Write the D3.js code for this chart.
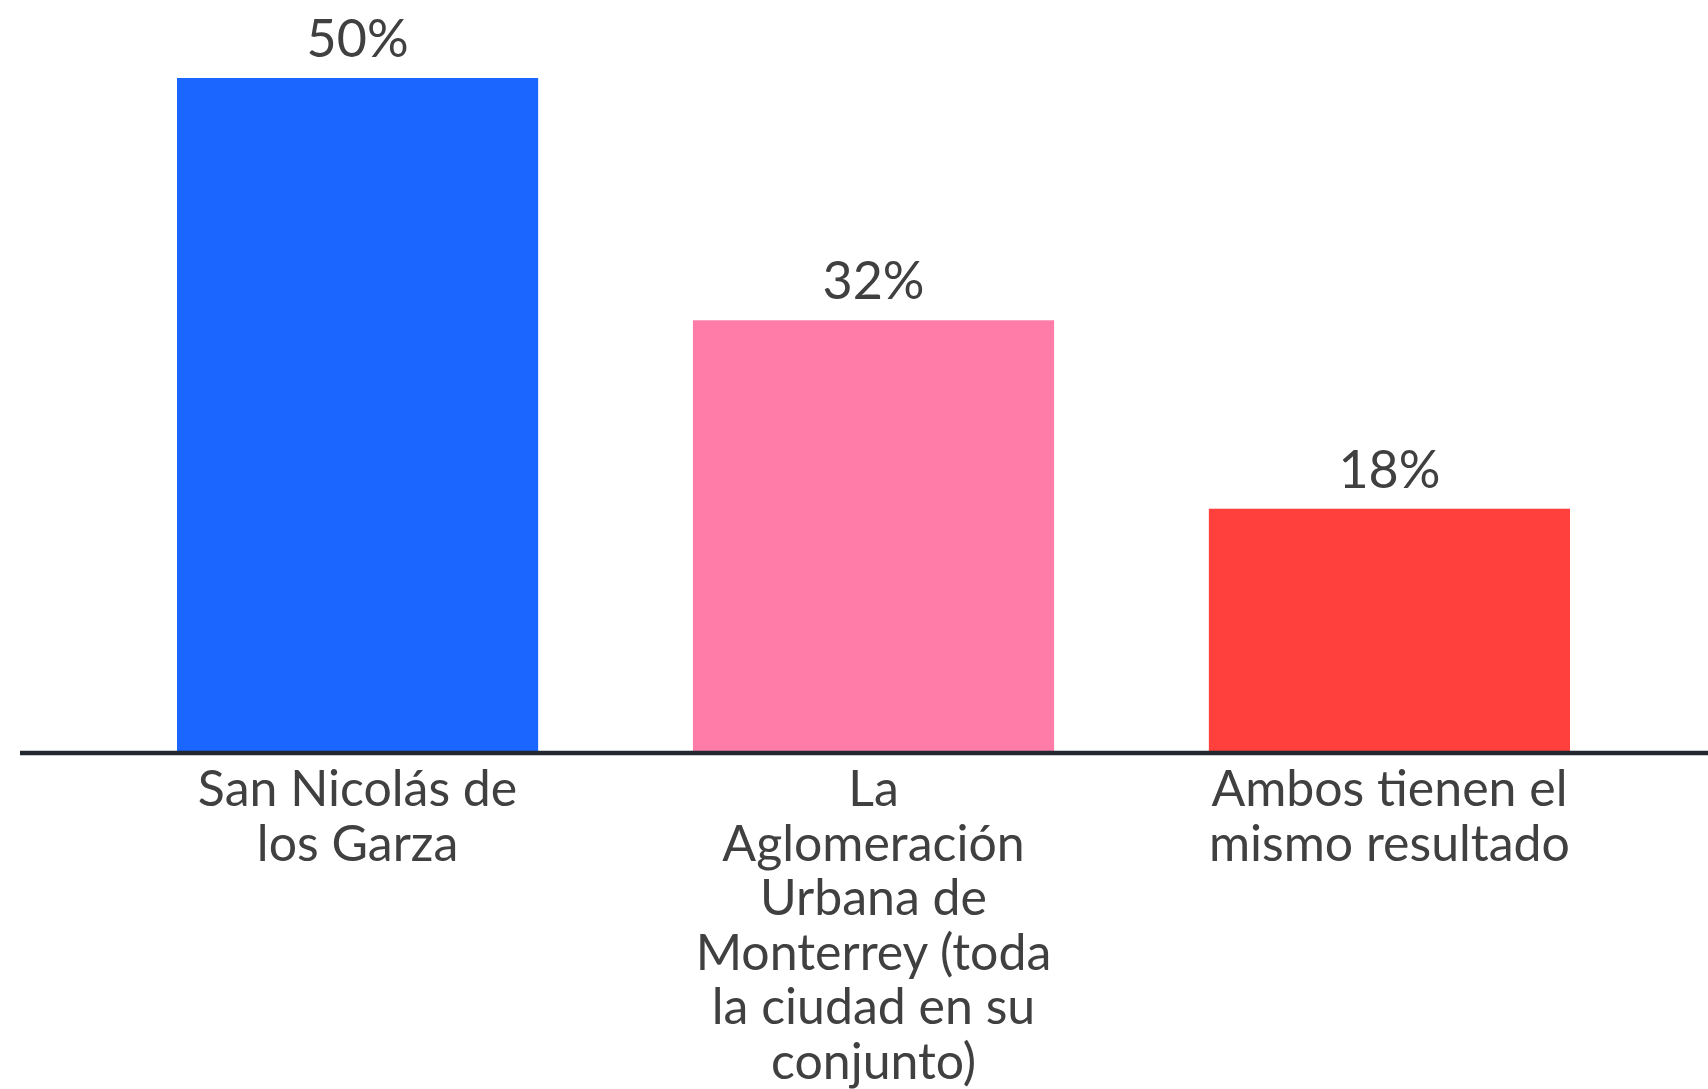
<!DOCTYPE html>
<html>
<head>
<meta charset="utf-8">
<script src="https://cdn.jsdelivr.net/npm/d3@7"></script>
<style>
  body { margin: 0; background: #fff; }
  svg { display: block; }
</style>
</head>
<body>
<script>
// data
let categories = ["San Nicolás de los Garza", "La Aglomeración Urbana de Monterrey (toda la ciudad en su conjunto)", "Ambos tienen el mismo resultado"];
let values = [50, 32, 18];
let valueLabels = ["50%", "32%", "18%"];
let tickLines = [
  ["San Nicolás de", "los Garza"],
  ["La", "Aglomeración", "Urbana de", "Monterrey (toda", "la ciudad en su", "conjunto)"],
  ["Ambos tienen el", "mismo resultado"]
];
let colors = ["#1a66ff", "#ff7ca8", "#ff403d"];

let w = 1708, h = 1089;
let font = "Lato, 'Noto Sans', sans-serif";
let textColor = "#404040";

let svg = d3.select("body").append("svg").attr("width", w).attr("height", h);

let xScale = d3.scaleBand().domain(categories).range([177, 1570]).paddingInner(0.3).paddingOuter(0);
let yScale = d3.scaleLinear().domain([0, 50]).range([751, 78]);

// bars
svg.selectAll(".bar")
  .data(categories)
  .enter()
  .append("rect")
  .attr("class", "bar")
  .attr("x", d => xScale(d))
  .attr("y", (d, i) => yScale(values[i]))
  .attr("width", xScale.bandwidth())
  .attr("height", (d, i) => yScale(0) - yScale(values[i]))
  .attr("fill", (d, i) => colors[i]);

// value labels
svg.selectAll(".val")
  .data(categories)
  .enter()
  .append("text")
  .attr("class", "val")
  .text((d, i) => valueLabels[i])
  .attr("x", d => xScale(d) + xScale.bandwidth() / 2)
  .attr("y", (d, i) => yScale(values[i]) - 21)
  .attr("text-anchor", "middle")
  .attr("font-family", font)
  .attr("font-size", "52px")
  .attr("fill", textColor);

// baseline (runs past the bars to the right edge)
svg.append("line")
  .attr("x1", 20).attr("x2", w)
  .attr("y1", yScale(0) + 2).attr("y2", yScale(0) + 2)
  .attr("stroke", "#23282e")
  .attr("stroke-width", 4.5);

// category labels, one tspan per line
let xAxis = svg.append("g")
  .attr("transform", "translate(0," + yScale(0) + ")")
  .call(d3.axisBottom(xScale).tickSize(0).tickFormat(""));
xAxis.select(".domain").remove();

xAxis.selectAll(".tick").each(function (d, i) {
  let t = d3.select(this).append("text")
    .attr("text-anchor", "middle")
    .attr("font-family", font)
    .attr("font-size", "50px")
    .attr("fill", textColor);
  tickLines[i].forEach((line, k) => {
    t.append("tspan")
      .attr("x", 0)
      .attr("y", 55 + k * 54.5)
      .text(line);
  });
});
</script>
</body>
</html>
